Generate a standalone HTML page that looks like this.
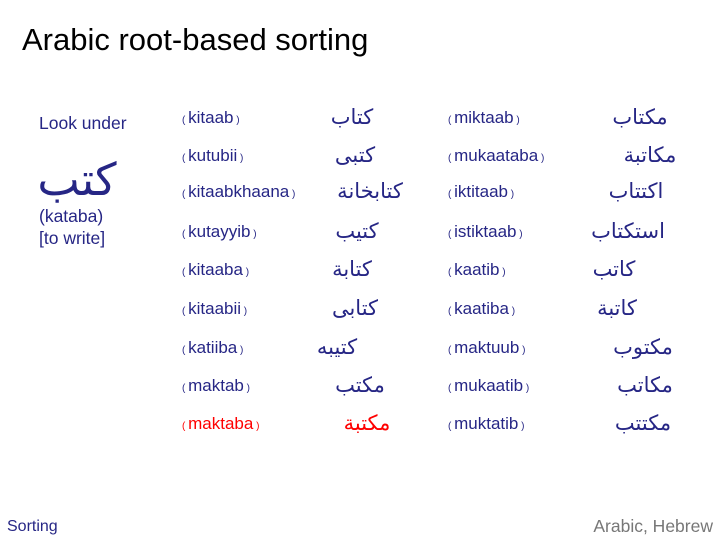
<!DOCTYPE html>
<html><head><meta charset="utf-8"><style>
body{margin:0;width:720px;height:540px;background:#fff;position:relative;overflow:hidden;font-family:"Liberation Sans",sans-serif;color:#262685}
div{position:absolute;white-space:nowrap}
.t{font-size:17px;line-height:20px}
.t small{font-size:10px}
.a{font-family:"DejaVu Sans",sans-serif;font-size:21px;line-height:30px;transform:translateX(-50%);direction:rtl}
.r{color:#f00}
</style></head><body>
<div style="left:22px;top:22px;font-size:31px;color:#000;line-height:36px">Arabic root-based sorting</div>
<div style="left:39px;top:113px;font-size:17.5px;line-height:20px">Look under</div>
<div style="left:77px;top:153px;font-family:'DejaVu Sans',sans-serif;font-size:45px;line-height:54px;transform:translateX(-50%);direction:rtl">كتب</div>
<div style="left:39px;top:206px;font-size:17.5px;line-height:20px">(kataba)</div>
<div style="left:39px;top:228px;font-size:17.5px;line-height:20px">[to write]</div>

<div class="t" style="left:182px;top:108px"><small>( </small>kitaab<small> )</small></div>
<div class="t" style="left:182px;top:146px"><small>( </small>kutubii<small> )</small></div>
<div class="t" style="left:182px;top:182px"><small>( </small>kitaabkhaana<small> )</small></div>
<div class="t" style="left:182px;top:222px"><small>( </small>kutayyib<small> )</small></div>
<div class="t" style="left:182px;top:260px"><small>( </small>kitaaba<small> )</small></div>
<div class="t" style="left:182px;top:299px"><small>( </small>kitaabii<small> )</small></div>
<div class="t" style="left:182px;top:338px"><small>( </small>katiiba<small> )</small></div>
<div class="t" style="left:182px;top:376px"><small>( </small>maktab<small> )</small></div>
<div class="t r" style="left:182px;top:414px"><small>( </small>maktaba<small> )</small></div>

<div class="a" style="left:352px;top:102px">كتاب</div>
<div class="a" style="left:355px;top:140px">كتبى</div>
<div class="a" style="left:370px;top:176px">كتابخانة</div>
<div class="a" style="left:357px;top:216px">كتيب</div>
<div class="a" style="left:352px;top:254px">كتابة</div>
<div class="a" style="left:355px;top:293px">كتابى</div>
<div class="a" style="left:337px;top:332px">كتيبه</div>
<div class="a" style="left:360px;top:370px">مكتب</div>
<div class="a r" style="left:367px;top:408px">مكتبة</div>

<div class="t" style="left:448px;top:108px"><small>( </small>miktaab<small> )</small></div>
<div class="t" style="left:448px;top:146px"><small>( </small>mukaataba<small> )</small></div>
<div class="t" style="left:448px;top:182px"><small>( </small>iktitaab<small> )</small></div>
<div class="t" style="left:448px;top:222px"><small>( </small>istiktaab<small> )</small></div>
<div class="t" style="left:448px;top:260px"><small>( </small>kaatib<small> )</small></div>
<div class="t" style="left:448px;top:299px"><small>( </small>kaatiba<small> )</small></div>
<div class="t" style="left:448px;top:338px"><small>( </small>maktuub<small> )</small></div>
<div class="t" style="left:448px;top:376px"><small>( </small>mukaatib<small> )</small></div>
<div class="t" style="left:448px;top:414px"><small>( </small>muktatib<small> )</small></div>

<div class="a" style="left:640px;top:102px">مكتاب</div>
<div class="a" style="left:650px;top:140px">مكاتبة</div>
<div class="a" style="left:636px;top:176px">اكتتاب</div>
<div class="a" style="left:628px;top:216px">استكتاب</div>
<div class="a" style="left:614px;top:254px">كاتب</div>
<div class="a" style="left:617px;top:293px">كاتبة</div>
<div class="a" style="left:643px;top:332px">مكتوب</div>
<div class="a" style="left:645px;top:370px">مكاتب</div>
<div class="a" style="left:643px;top:408px">مكتتب</div>

<div style="left:7px;top:518px;font-size:16px;line-height:18px">Sorting</div>
<div style="right:7px;top:517px;font-size:17.5px;line-height:18px;color:#777">Arabic, Hebrew</div>
</body></html>
